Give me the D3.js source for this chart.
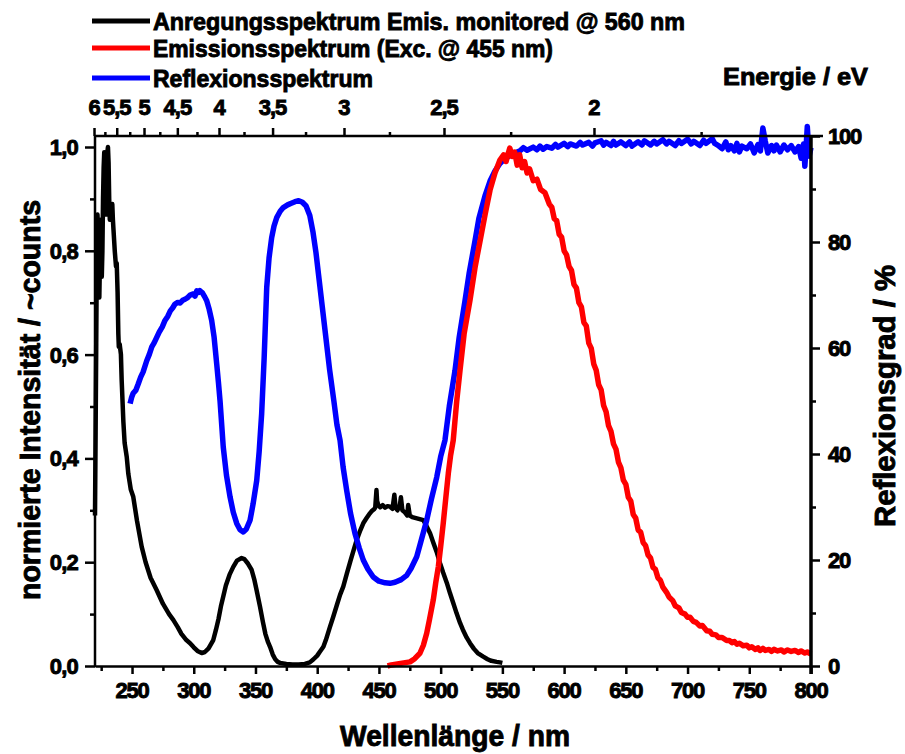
<!DOCTYPE html>
<html><head><meta charset="utf-8">
<script src="https://cdn.jsdelivr.net/npm/d3@7"></script>
<style>
body{margin:0;background:#fff;}
text{font-family:"Liberation Sans",Arial,sans-serif;font-weight:bold;fill:#000;stroke:#000;stroke-width:0.9px;}
</style></head>
<body><svg id="c" width="905" height="754"></svg>
<script>
// ---- data ----
const excitation = [[220,0.29],[220.5,0.45],[221,0.62],[221.5,0.80],[222,0.87],[222.5,0.84],[223,0.76],[223.5,0.71],[224,0.78],[224.5,0.86],[225,0.83],[225.5,0.75],[226,0.80],[226.5,0.90],[227,0.96],[227.5,0.99],[228,0.98],[228.5,0.93],[229,0.87],[229.5,0.92],[230,0.99],[230.5,1.0],[231,0.97],[231.5,0.90],[232,0.86],[232.5,0.89],[233,0.88],[233.5,0.87],[234,0.89],[234.5,0.86],[235,0.84],[236,0.80],[237,0.77],[237.6,0.776],[238.3,0.72],[238.9,0.64],[239.3,0.615],[240,0.62],[241,0.60],[241.6,0.551],[243,0.47],[244,0.43],[245.7,0.403],[247,0.37],[249,0.34],[251,0.326],[254,0.28],[257.8,0.23],[261,0.20],[265,0.17],[270,0.146],[275,0.12],[280,0.10],[283.4,0.089],[287,0.075],[290,0.062],[294,0.05],[297,0.044],[300,0.036],[303,0.029],[306.4,0.025],[309,0.027],[312,0.034],[315.8,0.05],[318,0.07],[320,0.09],[322,0.115],[323.9,0.134],[326,0.155],[329,0.176],[332,0.191],[335,0.203],[338.8,0.208],[341,0.206],[344,0.197],[346.9,0.185],[349,0.167],[351,0.145],[353.7,0.114],[356,0.085],[358,0.062],[360,0.047],[361.8,0.037],[364,0.022],[366,0.013],[368,0.008],[369.9,0.006],[375,0.004],[380,0.003],[385,0.003],[390,0.004],[394,0.007],[397,0.013],[400,0.02],[402,0.027],[405,0.037],[407,0.05],[410.4,0.076],[413,0.095],[416,0.118],[418.5,0.137],[421.1,0.153],[424,0.178],[427,0.203],[430,0.227],[432,0.243],[435,0.262],[437.3,0.275],[440,0.285],[442,0.292],[444,0.298],[446,0.302],[447,0.305],[448,0.339],[448.5,0.318],[449.5,0.31],[451,0.306],[453,0.31],[455,0.305],[457,0.308],[459,0.307],[461,0.303],[462.5,0.33],[463.5,0.305],[465,0.30],[467,0.31],[467.8,0.325],[469,0.30],[471,0.296],[473,0.29],[473.7,0.31],[475,0.29],[477,0.287],[480,0.285],[483,0.283],[486,0.281],[488.5,0.27],[491.4,0.256],[494,0.238],[497,0.218],[499.5,0.198],[502,0.18],[505,0.16],[507.6,0.14],[510,0.123],[513,0.101],[515.7,0.083],[518,0.07],[521,0.055],[523.8,0.044],[527,0.033],[530,0.025],[534.5,0.018],[538,0.013],[541,0.01],[545.4,0.008],[548,0.007],[550,0.006]];

const emission = [[457,0.0],[460,0.002],[465,0.004],[470,0.006],[475.2,0.008],[479,0.014],[483.3,0.025],[486,0.04],[488.7,0.063],[491,0.09],[494,0.127],[496,0.16],[498.1,0.191],[500,0.23],[502.1,0.275],[504,0.32],[506.2,0.371],[508,0.405],[510.2,0.435],[513,0.51],[515.7,0.57],[519,0.64],[523.8,0.705],[528,0.77],[532,0.82],[536,0.87],[540,0.917],[544,0.95],[548,0.975],[551,0.985],[553,0.972],[555,0.99],[556,0.998],[558,0.982],[560,0.99],[562,0.965],[564,0.985],[566,0.96],[568,0.972],[570,0.95],[572,0.958],[575,0.935],[578,0.938],[581,0.918],[584.5,0.912],[588,0.89],[590,0.884],[592,0.862],[594,0.858],[596,0.832],[598,0.826],[600,0.8],[602,0.792],[604,0.77],[606,0.762],[608,0.735],[610,0.728],[612,0.7],[614,0.692],[616,0.662],[618,0.655],[620,0.622],[622,0.612],[624,0.582],[626,0.57],[628,0.542],[630,0.532],[632,0.502],[634,0.49],[636,0.463],[638,0.452],[640,0.428],[642,0.418],[644,0.393],[646,0.382],[648,0.358],[650,0.35],[652,0.325],[654,0.318],[656,0.292],[658,0.285],[660,0.262],[662,0.258],[664,0.238],[666,0.232],[668,0.214],[670,0.208],[672,0.19],[674,0.186],[676,0.17],[678,0.165],[680,0.152],[683,0.142],[685,0.133],[688,0.126],[690,0.116],[693,0.112],[695,0.103],[698,0.1],[700,0.094],[702,0.094],[704.7,0.086],[707,0.084],[710,0.077],[712,0.078],[715.5,0.068],[718,0.067],[720,0.061],[723,0.06],[725,0.055],[728,0.055],[731.7,0.049],[734,0.049],[736,0.045],[738,0.047],[740,0.042],[742,0.044],[745,0.039],[748,0.04],[750,0.035],[752,0.037],[755,0.032],[757,0.035],[758.7,0.03],[761,0.034],[763,0.03],[766,0.032],[768,0.028],[770,0.032],[773,0.029],[776,0.031],[778,0.027],[781,0.031],[784,0.028],[787,0.03],[790,0.026],[792,0.029],[795,0.025],[797,0.027],[800,0.023]];

const reflexion = [[248.4,49.5],[249.7,50.7],[251,51.5],[253,52.0],[255,53.2],[257,54.5],[259,55.5],[261.9,57.6],[264,58.8],[266,60.2],[268,61.0],[270,62.0],[272,63.0],[274.5,64.0],[276.7,65.2],[279,66.0],[281,67.0],[283,67.6],[284.8,68.3],[287,68.6],[289,68.5],[291,69.0],[292.9,69.2],[295,69.5],[297,70.0],[299.6,70.2],[301,69.8],[302.5,70.8],[304,70.5],[305,70.8],[307,70.4],[309,69.6],[310.5,68.9],[312.5,67.3],[314.5,65.2],[316.5,62.0],[318.6,57.0],[320,53.5],[321.3,50.0],[323.9,41.3],[326.5,36.0],[329.4,31.9],[332,29.0],[334.8,26.9],[337.5,25.7],[340.1,25.3],[342.5,25.8],[345.6,27.5],[348,30.5],[351,35.0],[353,40.5],[355,47.6],[357,58.0],[359.1,71.4],[361,77.0],[363.1,80.8],[365,83.0],[367.2,84.6],[370,85.8],[372.5,86.5],[376,87.0],[379,87.3],[382,87.6],[385,87.8],[388,87.5],[391,86.8],[394,85.0],[396.5,82.0],[399,78.0],[401.5,73.0],[404,68.0],[407,62.0],[410,56.0],[413.5,50.0],[416,45.5],[418.5,42.6],[421,37.5],[423.9,33.1],[427,28.8],[430.6,25.0],[434,22.3],[437.3,20.0],[441,18.3],[445.4,16.8],[450,16.0],[455,15.7],[459,15.6],[463,15.8],[468,16.3],[472.5,17.1],[476,18.4],[480.6,20.6],[484,23.5],[488.7,27.5],[492.5,31.5],[496.8,35.6],[500,39.5],[503.5,42.6],[507,49.0],[511.6,55.7],[515,62.0],[519.7,68.9],[523,74.0],[527.8,80.2],[531,84.5],[535.9,88.7],[540,91.5],[544,93.4],[548,94.8],[552,95.7],[556,96.3],[560,96.8],[564.3,97.2],[567,97.8],[570,97.3],[575,97.9],[578,97.4],[580.5,98.1],[583,97.5],[586,98.0],[590,97.7],[593,98.4],[595,97.9],[600,98.6],[603,98.0],[605,98.5],[610,98.1],[613,98.8],[615,98.3],[620,98.8],[623,98.1],[625,98.7],[630,99.1],[632,98.3],[634,98.8],[638,98.2],[640,99.0],[642,98.3],[646,98.9],[650,98.2],[653,98.9],[655,98.1],[660,98.9],[663,98.3],[665,99.1],[670,98.3],[673,99.0],[675,98.5],[680,99.3],[683,98.5],[685,99.0],[690,98.2],[693,99.1],[695,98.6],[700,99.4],[703,98.5],[705,99.0],[710,98.2],[713,99.2],[715,98.6],[720,99.5],[722,98.6],[725,98.2],[728,97.6],[731,98.9],[733,97.4],[735,98.2],[738,97.2],[740,98.6],[742,97.0],[744,98.1],[748,97.6],[751,98.5],[754,96.8],[757,98.4],[759,97.2],[761,101.5],[763,99.0],[765,96.8],[768,98.2],[770,97.2],[772,98.3],[775,97.0],[778,98.3],[781,97.4],[784,98.2],[787,97.0],[790,98.0],[792,95.8],[794,98.5],[795,94.3],[796,97.8],[797,101.8],[798.5,96.2],[800,97.8]];

const wavelengthTicks = [250,300,350,400,450,500,550,600,650,700,750,800];
const leftTicks = [0,0.2,0.4,0.6,0.8,1.0];
const leftTickLabels = ["0,0","0,2","0,4","0,6","0,8","1,0"];
const rightTicks = [0,20,40,60,80,100];
const energyTicks = [6,5.5,5,4.5,4,3.5,3,2.5,2];
const energyTickLabels = ["6","5,5","5","4,5","4","3,5","3","2,5","2"];
const energyMinor = [5.75,5.25,4.75,4.25,3.75,3.25,2.75,2.25,1.75];
const legendItems = [
  {label:"Anregungsspektrum Emis. monitored @ 560 nm", color:"#000000", len:532},
  {label:"Emissionsspektrum (Exc. @ 455 nm)", color:"#ff0000", len:400},
  {label:"Reflexionsspektrum", color:"#0000ff", len:220}
];

// ---- layout ----
const L=95, R=811, T=136, B=666;
const svg = d3.select("#c");
const x = d3.scaleLinear().domain([220,800]).range([L,R]);
const yL = d3.scaleLinear().domain([0,1.0212]).range([B,T]);
const yR = d3.scaleLinear().domain([0,100]).range([B,T]);
// energy axis calibration as drawn in the original figure
const energyToWl = e => 1215/e + 16.7;

const line = (ys) => d3.line().x(d=>x(d[0])).y(d=>ys(d[1]));

// curves
svg.append("path").datum(excitation).attr("d",line(yL)).attr("fill","none").attr("stroke","#000").attr("stroke-width",4.5).attr("stroke-linejoin","round");
svg.append("path").datum(reflexion).attr("d",line(yR)).attr("fill","none").attr("stroke","#0000ff").attr("stroke-width",5.5).attr("stroke-linejoin","round");
svg.append("path").datum(emission).attr("d",line(yL)).attr("fill","none").attr("stroke","#ff0000").attr("stroke-width",5.5).attr("stroke-linejoin","round");

// axes
function styleAxis(g){
  g.select(".domain").attr("stroke","#000").attr("stroke-width",2.5);
  g.selectAll(".tick line").attr("stroke","#000").attr("stroke-width",2.5);
}
// bottom
const gB = svg.append("g").attr("transform",`translate(0,${B})`)
  .call(d3.axisBottom(x).tickValues(wavelengthTicks).tickSize(8).tickSizeOuter(0).tickFormat(""));
styleAxis(gB);
svg.append("g").attr("transform",`translate(0,${B})`)
  .call(d3.axisBottom(x).tickValues(d3.range(225,800,50)).tickSize(5).tickSizeOuter(0).tickFormat(""))
  .call(g=>{g.select(".domain").remove(); g.selectAll("line").attr("stroke","#000").attr("stroke-width",2.5);});
svg.append("g").selectAll("text").data(wavelengthTicks).join("text")
  .attr("x",d=>x(d)).attr("y",698).attr("text-anchor","middle").attr("font-size",22).attr("letter-spacing",-1.2).text(d=>d);

// left
const gL = svg.append("g").attr("transform",`translate(${L},0)`)
  .call(d3.axisLeft(yL).tickValues(leftTicks).tickSize(10).tickSizeOuter(0).tickFormat(""));
styleAxis(gL);
gL.select(".domain").attr("d",`M0,${B+1}V${T}`);
svg.append("g").attr("transform",`translate(${L},0)`)
  .call(d3.axisLeft(yL).tickValues([0.1,0.3,0.5,0.7,0.9]).tickSize(5).tickSizeOuter(0).tickFormat(""))
  .call(g=>{g.select(".domain").remove(); g.selectAll("line").attr("stroke","#000").attr("stroke-width",2.5);});
svg.append("g").selectAll("text").data(leftTicks).join("text")
  .attr("x",78).attr("y",d=>yL(d)+8).attr("text-anchor","end").attr("font-size",22).attr("letter-spacing",-0.8).text((d,i)=>leftTickLabels[i]);

// right
const gR = svg.append("g").attr("transform",`translate(${R},0)`)
  .call(d3.axisRight(yR).tickValues(rightTicks).tickSize(9).tickSizeOuter(0).tickFormat(""));
styleAxis(gR);
gR.select(".domain").attr("stroke-width",3.5).attr("d",`M0,${B+8}V${T}`);
svg.append("g").attr("transform",`translate(${R},0)`)
  .call(d3.axisRight(yR).tickValues([10,30,50,70,90]).tickSize(5).tickSizeOuter(0).tickFormat(""))
  .call(g=>{g.select(".domain").remove(); g.selectAll("line").attr("stroke","#000").attr("stroke-width",2.5);});
svg.append("g").selectAll("text").data(rightTicks).join("text")
  .attr("x",828).attr("y",d=>yR(d)+8).attr("text-anchor","start").attr("font-size",22).attr("letter-spacing",-1.2).text(d=>d);

// top (energy)
const gT = svg.append("g").attr("transform",`translate(0,${T})`)
  .call(d3.axisTop(x).tickValues(energyTicks.map(energyToWl)).tickSize(8).tickSizeOuter(0).tickFormat(""));
styleAxis(gT);
gT.select(".domain").attr("d",`M${L},0H${R+12}`);
svg.append("g").attr("transform",`translate(0,${T})`)
  .call(d3.axisTop(x).tickValues(energyMinor.map(energyToWl)).tickSize(4).tickSizeOuter(0).tickFormat(""))
  .call(g=>{g.select(".domain").remove(); g.selectAll("line").attr("stroke","#000").attr("stroke-width",2.5);});
svg.append("g").selectAll("text").data(energyTicks).join("text")
  .attr("x",d=>x(energyToWl(d))).attr("y",115).attr("text-anchor","middle").attr("font-size",22).attr("letter-spacing",-1).text((d,i)=>energyTickLabels[i]);

// titles
svg.append("text").attr("x",455).attr("y",746).attr("text-anchor","middle").attr("font-size",30)
  .attr("textLength",230).attr("lengthAdjust","spacingAndGlyphs").text("Wellenlänge / nm");
svg.append("text").attr("transform","translate(40,400) rotate(-90)").attr("text-anchor","middle").attr("font-size",29)
  .attr("textLength",400).attr("lengthAdjust","spacingAndGlyphs").text("normierte Intensität / ~counts");
svg.append("text").attr("transform","translate(895,396) rotate(-90)").attr("text-anchor","middle").attr("font-size",29)
  .attr("textLength",262).attr("lengthAdjust","spacingAndGlyphs").text("Reflexionsgrad / %");
svg.append("text").attr("x",723).attr("y",85).attr("font-size",24)
  .attr("textLength",145).attr("lengthAdjust","spacingAndGlyphs").text("Energie / eV");

// legend
const lg = svg.append("g").selectAll("g").data(legendItems).join("g")
  .attr("transform",(d,i)=>`translate(0,${[21,48,78][i]})`);
lg.append("line").attr("x1",92).attr("x2",150).attr("y1",0).attr("y2",0).attr("stroke",d=>d.color).attr("stroke-width",5);
lg.append("text").attr("x",153).attr("y",9).attr("font-size",24)
  .attr("textLength",d=>d.len).attr("lengthAdjust","spacingAndGlyphs").text(d=>d.label);
</script></body></html>
